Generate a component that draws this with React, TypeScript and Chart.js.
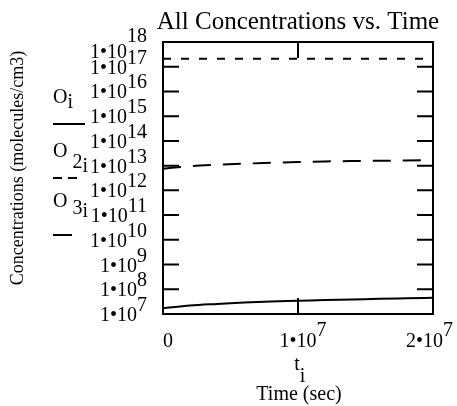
import React, { useEffect, useRef } from "react";
import { Chart, registerables } from "chart.js";

Chart.register(...registerables);

// ---- data ----
const times = [0, 2e6, 4e6, 6e6, 8e6, 1e7, 1.2e7, 1.4e7, 1.6e7, 1.8e7, 2e7];
const oValues = [1.7e7, 2.2e7, 2.55e7, 2.9e7, 3.2e7, 3.4e7, 3.65e7, 3.85e7, 4.1e7, 4.3e7, 4.5e7];
const o2Values = [2.1e17, 2.1e17, 2.1e17, 2.1e17, 2.1e17, 2.1e17, 2.1e17, 2.1e17, 2.1e17, 2.1e17, 2.1e17];
const o3Values = [7.5e12, 9.5e12, 1.08e13, 1.2e13, 1.3e13, 1.4e13, 1.48e13, 1.53e13, 1.57e13, 1.62e13, 1.68e13];

const yTickExponents = [7, 8, 9, 10, 11, 12, 13, 14, 15, 16, 17, 18];
const xTickValues = [0, 1e7, 2e7];
const xTickBases = ["0", "1•10", "2•10"];
const xTickSups = ["", "7", "7"];

const titleText = "All Concentrations vs. Time";
const yTitle = "Concentrations (molecules/cm3)";
const xVarName = "t";
const xTitle = "Time (sec)";
const legendNames = ["O", "O", "O"];
const legendSubs = ["", "2", "3"];

const FONT = "'Liberation Serif', 'Times New Roman', serif";

function toPoints(vals: number[]) {
  return vals.map((v, i) => ({ x: times[i], y: v }));
}

const decorPlugin = {
  id: "mathcadDecor",
  beforeDatasetsDraw(chart: any) {
    const { ctx, chartArea: a, scales } = chart;
    const xs = scales.x;
    const ys = scales.y;
    ctx.save();
    ctx.strokeStyle = "#000";
    ctx.lineWidth = 2;
    ctx.setLineDash([]);
    ctx.strokeRect(a.left, a.top, a.right - a.left, a.bottom - a.top);
    const tl = 16;
    ctx.beginPath();
    yTickExponents.forEach((e) => {
      const y = ys.getPixelForValue(Math.pow(10, e));
      if (Math.abs(y - a.top) < 1 || Math.abs(y - a.bottom) < 1) return;
      ctx.moveTo(a.left, y);
      ctx.lineTo(a.left + tl, y);
      ctx.moveTo(a.right, y);
      ctx.lineTo(a.right - tl, y);
    });
    xTickValues.forEach((v) => {
      const x = xs.getPixelForValue(v);
      if (Math.abs(x - a.left) < 1 || Math.abs(x - a.right) < 1) return;
      ctx.moveTo(x, a.bottom);
      ctx.lineTo(x, a.bottom - tl);
      ctx.moveTo(x, a.top);
      ctx.lineTo(x, a.top + tl);
    });
    ctx.stroke();
    ctx.restore();
  },
  afterDraw(chart: any) {
    const { ctx, chartArea: a, scales, width } = chart;
    const xs = scales.x;
    const ys = scales.y;
    ctx.save();
    ctx.fillStyle = "#000";
    ctx.textBaseline = "alphabetic";
    ctx.font = `20px ${FONT}`;

    // y tick labels (right aligned)
    const yRight = a.left - 16;
    yTickExponents.forEach((e) => {
      const ty = ys.getPixelForValue(Math.pow(10, e));
      const base = "1•10";
      const sup = String(e);
      const wb = ctx.measureText(base).width;
      const ws = ctx.measureText(sup).width;
      const baseY = Math.max(ty + 7, a.top + 16);
      ctx.textAlign = "left";
      ctx.fillText(base, yRight - ws - wb, baseY);
      ctx.fillText(sup, yRight - ws, Math.min(baseY - 10, ty));
    });

    // x tick labels
    const xBaseY = a.bottom + 33;
    xTickValues.forEach((v, i) => {
      const tx = xs.getPixelForValue(v);
      const base = xTickBases[i];
      const sup = xTickSups[i];
      const wb = ctx.measureText(base).width;
      const ws = sup ? ctx.measureText(sup).width : 0;
      let left = i === 0 ? tx : tx - wb / 2;
      if (left + wb + ws > width - 4) left = width - 4 - wb - ws;
      ctx.textAlign = "left";
      ctx.fillText(base, left, xBaseY);
      if (sup) ctx.fillText(sup, left + wb, xBaseY - 11);
    });

    // x variable name with subscript
    const cx = (a.left + a.right) / 2;
    ctx.font = `20px ${FONT}`;
    const wt = ctx.measureText(xVarName).width;
    ctx.textAlign = "left";
    ctx.fillText(xVarName, cx - wt / 2 - 1, a.bottom + 56);
    ctx.fillText("i", cx - wt / 2 - 1 + wt, a.bottom + 68);
    ctx.textAlign = "center";
    ctx.fillText(xTitle, cx + 1, a.bottom + 86);

    // title
    ctx.font = `25px ${FONT}`;
    ctx.textAlign = "center";
    ctx.fillText(titleText, cx, 29);

    // y title rotated
    ctx.save();
    ctx.font = `18px ${FONT}`;
    ctx.translate(23, 168);
    ctx.rotate(-Math.PI / 2);
    ctx.textAlign = "center";
    ctx.fillText(yTitle, 0, 0);
    ctx.restore();

    // legend (Mathcad style)
    ctx.font = `20px ${FONT}`;
    ctx.textAlign = "left";
    const legX = 53;
    const wO = ctx.measureText("O").width;
    // O_i
    ctx.fillText(legendNames[0], legX, 103);
    ctx.fillText("i", legX + wO, 108);
    // O 2_i
    ctx.fillText(legendNames[1], legX, 157);
    ctx.fillText(legendSubs[1], legX + wO + 5, 168);
    ctx.fillText("i", legX + wO + 5 + ctx.measureText("2").width, 172);
    // O 3_i
    ctx.fillText(legendNames[2], legX, 207);
    ctx.fillText(legendSubs[2], legX + wO + 5, 214);
    ctx.fillText("i", legX + wO + 5 + ctx.measureText("3").width, 217);

    ctx.strokeStyle = "#000";
    ctx.lineWidth = 2;
    ctx.beginPath();
    ctx.setLineDash([]);
    ctx.moveTo(legX, 124);
    ctx.lineTo(legX + 32, 124);
    ctx.stroke();
    ctx.beginPath();
    ctx.setLineDash([9, 6]);
    ctx.moveTo(legX, 178);
    ctx.lineTo(legX + 24, 178);
    ctx.stroke();
    ctx.beginPath();
    ctx.setLineDash([]);
    ctx.moveTo(legX, 235);
    ctx.lineTo(legX + 19, 235);
    ctx.stroke();
    ctx.restore();
  },
};

export default function App() {
  const ref = useRef<HTMLCanvasElement | null>(null);
  useEffect(() => {
    if (!ref.current) return;
    const chart = new Chart(ref.current, {
      type: "line",
      data: {
        datasets: [
          {
            label: "O",
            data: toPoints(oValues),
            borderColor: "#000",
            borderWidth: 2,
            pointRadius: 0,
            cubicInterpolationMode: "monotone",
          },
          {
            label: "O2",
            data: toPoints(o2Values),
            borderColor: "#000",
            borderWidth: 2,
            borderDash: [8, 10],
            pointRadius: 0,
          },
          {
            label: "O3",
            data: toPoints(o3Values),
            borderColor: "#000",
            borderWidth: 2,
            borderDash: [18, 12],
            pointRadius: 0,
            cubicInterpolationMode: "monotone",
          },
        ],
      },
      options: {
        animation: false,
        responsive: false,
        layout: { padding: { left: 163, right: 24, top: 42, bottom: 92 } },
        plugins: {
          legend: { display: false },
          title: { display: false },
          tooltip: { enabled: false },
        },
        scales: {
          x: { type: "linear", min: 0, max: 2e7, display: false },
          y: { type: "logarithmic", min: 1e7, max: 1e18, display: false },
        },
      } as any,
      plugins: [decorPlugin],
    });
    return () => chart.destroy();
  }, []);
  return (
    <div style={{ position: "fixed", left: 0, top: 0, width: 457, height: 406, background: "#fff" }}>
      <canvas ref={ref} width={457} height={406} />
    </div>
  );
}
